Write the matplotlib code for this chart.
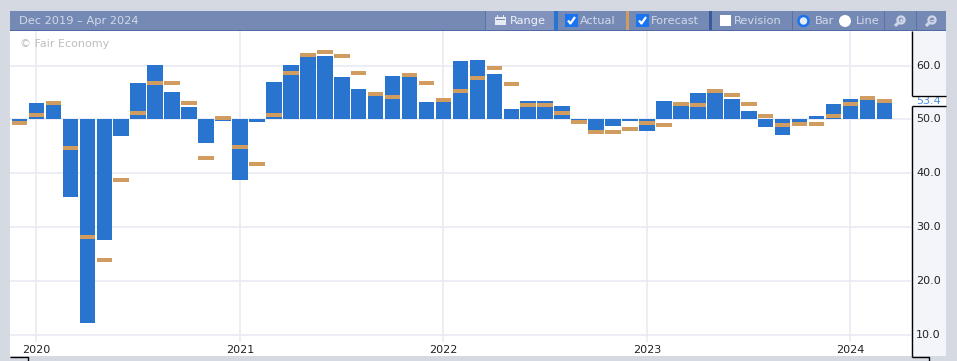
import numpy as np
import matplotlib
matplotlib.use('Agg')
import matplotlib.pyplot as plt
from matplotlib.patches import Rectangle
from matplotlib.lines import Line2D

W, H = 957, 361

# monthly values, Dec 2019 to Mar 2024
actual = [49.8, 53.1, 52.7, 35.6, 12.2, 27.6, 46.9, 56.8, 60.1, 55.1, 52.3, 45.6, 49.7,
          38.8, 49.5, 57.0, 60.1, 61.6, 61.8, 57.9, 55.7, 54.4, 58.1, 57.9, 53.2,
          53.2, 60.9, 61.0, 58.4, 51.9, 53.4, 53.4, 52.5, 49.8, 47.9, 48.8, 49.8,
          47.9, 53.4, 52.5, 54.9, 54.9, 53.8, 51.6, 48.6, 47.1, 49.5, 50.6, 52.9,
          53.8, 53.6, 53.1]
forecast = [49.35, 50.8, 53.1, 44.7, 28.2, 23.9, 38.8, 51.2, 56.8, 56.8, 53.1, 42.9, 50.3,
            44.9, 41.7, 50.8, 58.6, 62.0, 62.5, 61.8, 58.6, 54.7, 54.2, 58.3, 56.8,
            53.6, 55.3, 57.7, 59.6, 56.6, 52.7, 52.7, 51.2, 49.5, 47.7, 47.7, 48.2,
            49.35, 49.0, 52.9, 52.7, 55.3, 54.5, 52.9, 50.6, 49.0, 49.2, 49.2, 50.6,
            52.9, 54.0, 53.4]
months = np.arange(-1, len(actual) - 1)  # 0 = Jan 2020
year_pos = [0, 12, 24, 36, 48]
year_labels = ['2020', '2021', '2022', '2023', '2024']
y_ticks = [10, 20, 30, 40, 50, 60]
last_value = 53.4

def px(x, y, w, h):
    # pixel box, y measured from the top
    return (x / W, 1 - (y + h) / H), w / W, h / H

def rect(x, y, w, h, color, **kw):
    xy, ww, hh = px(x, y, w, h)
    fig.add_artist(Rectangle(xy, ww, hh, transform=fig.transFigure, color=color, lw=0, **kw))

def label(x, y, s, color='#d3d9e8', size=8.2, **kw):
    fig.text(x / W, 1 - y / H, s, color=color, fontsize=size, va='center', **kw)

def fline(xs, ys, color='black', lw=1.0):
    fig.add_artist(Line2D([x / W for x in xs], [1 - y / H for y in ys], color=color, lw=lw,
                          transform=fig.transFigure, solid_capstyle='butt'))

fig = plt.figure(figsize=(W / 100, H / 100), dpi=100, facecolor='#d5d9e2')

# plot area spans x 10-911, y 31-356
xy, ww, hh = px(10, 31, 901, 325)
ax = fig.add_axes([xy[0], xy[1], ww, hh])
ax.set_xlim(-1.5625, 51.57)
ax.set_ylim(6.12, 66.42)
for s in ax.spines.values():
    s.set_visible(False)

ax.hlines(y_ticks, -1.5625, 51.57, color='#e8e9f2', lw=1.1, zorder=0)
ax.vlines(year_pos, 8.7, 66.42, color='#e8e9f2', lw=1.1, zorder=0)

bar_w = 15.6 / 16.96
ax.bar(months, np.array(actual) - 50, bottom=50, width=bar_w, color='#2874ce', zorder=2)
ax.bar(months, [0.8] * len(forecast), bottom=np.array(forecast) - 0.4, width=bar_w,
       color='#d19c60', zorder=3)

ax.set_xticks(year_pos)
ax.set_xticklabels(year_labels, fontsize=8, color='#222222')
ax.tick_params(axis='x', length=0, pad=-8)
ax.set_yticks([])
ax.text(10 / 901, 1 - 13 / 325, '\u00a9 Fair Economy', transform=ax.transAxes,
        color='#bdbdbd', fontsize=8, va='center')

# right hand scale
ax2 = fig.add_axes([xy[0] + ww, xy[1], 35 / W, hh], facecolor='#f3f5fa', zorder=0.5)
ax2.set_xlim(0, 1)
ax2.set_ylim(ax.get_ylim())
ax2.set_xticks([])
ax2.set_yticks([])
for s in ax2.spines.values():
    s.set_visible(False)
ax2.axhspan(52.5, 54.5, color='white', lw=0)
for v in y_ticks:
    ax2.text(0.5, v, '%.1f' % v, color='#222222', fontsize=8, ha='center', va='center')
ax2.text(0.5, last_value, '%.1f' % last_value, color='#4a90e2', fontsize=8, ha='center',
         va='center')

# black frame round the scale with the gap at the last value
fline([911.5, 911.5], [31, 95.5])
fline([911.5, 946], [95.5, 95.5])
fline([911.5, 946], [106.5, 106.5])
fline([911.5, 911.5], [106.5, 356.5])
fline([911.5, 928.5, 928.5], [356.5, 356.5, 361])
fline([10, 27.5, 27.5], [356.5, 356.5, 361])

# header bar
rect(10, 11, 936, 20, '#7589b5')
rect(10, 30, 936, 1, '#4f6ba6')
rect(486, 11, 68, 19, '#8193bd')
label(19, 21, 'Dec 2019 \u2013 Apr 2024')
for sx in [485, 792, 884, 916]:
    rect(sx, 11, 1, 19, '#5a72a8')

# range button
rect(495, 17, 11, 8, '#e6eaf3')
rect(496, 19, 9, 1, '#7589b5')
rect(497, 15, 1, 3, '#e6eaf3')
rect(503, 15, 1, 3, '#e6eaf3')
label(510, 21, 'Range', color='#f0f2f8')

# series switches
rect(554, 11, 4, 19, '#2874ce')
rect(626, 11, 3, 19, '#d19c60')
rect(709, 11, 3, 19, '#3a5a9c')
for bx in [565, 636]:
    rect(bx, 14, 13, 13, '#1a73f0')
    fline([bx + 3, bx + 5.5, bx + 10], [20.5, 23.5, 17], color='white', lw=1.6)
rect(720, 15, 11, 11, 'white')
label(580, 21, 'Actual')
label(651, 21, 'Forecast')
label(734, 21, 'Revision')

# bar / line radio buttons
fig.add_artist(plt.Circle((803.5, H - 21), 5, transform=None, facecolor='#e4ecfa',
                          edgecolor='#1a73f0', lw=1.8))
fig.add_artist(plt.Circle((845, H - 21), 6, transform=None, color='white', lw=0))
label(815, 21, 'Bar')
label(856, 21, 'Line')

# zoom buttons
for cx in [900, 931]:
    fig.add_artist(plt.Circle((cx + 1, H - 20), 3.5, transform=None, facecolor='none',
                              edgecolor='#cdd5e6', lw=1.7))
    fline([cx - 5, cx - 2], [26, 23], color='#cdd5e6', lw=2.2)
    fline([cx - 1, cx + 3], [20, 20], color='#cdd5e6', lw=1)
fline([901, 901], [18, 22], color='#cdd5e6', lw=1)

fig.savefig('out.png', dpi=100, facecolor=fig.get_facecolor())
